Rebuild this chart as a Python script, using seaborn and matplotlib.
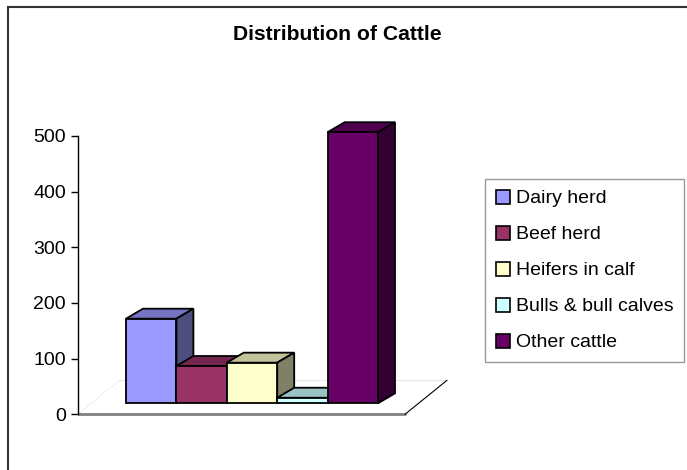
import matplotlib
matplotlib.use("Agg")
from matplotlib import pyplot as plt
from matplotlib.patches import Polygon, Rectangle
from matplotlib.transforms import ScaledTranslation
import matplotlib.colors as mcolors
import seaborn as sns


# Dados do gráfico
categorias = ['Dairy herd', 'Beef herd', 'Heifers in calf', 'Bulls & bull calves', 'Other cattle']
valores = [152, 67, 73, 10, 487]
cores = ['#9999FF', '#993366', '#FFFFCC', '#CCFFFF', '#660066']
yticks = [0, 100, 200, 300, 400, 500]
titulo = 'Distribution of Cattle'


def escurecer(cor, fator):
    r, g, b = mcolors.to_rgb(cor)
    return (r * fator, g * fator, b * fator)


def gerar_grafico():
    sns.set_style('white')
    plt.rcParams['font.family'] = ['Liberation Sans', 'DejaVu Sans']
    plt.rcParams['text.color'] = 'black'
    plt.rcParams['ytick.color'] = 'black'

    W, H = 687, 470
    fig = plt.figure(figsize=(W / 100, H / 100), dpi=100)

    # eixo principal em pixels da referência
    x0, x1, y0, y1 = 77.7, 405, 414.3, 136
    ax = fig.add_axes([x0 / W, 1 - y0 / H, (x1 - x0) / W, (y0 - y1) / H])

    sns.barplot(x=categorias, y=valores, hue=categorias, palette=cores,
                saturation=1, width=1, dodge=False, legend=False,
                edgecolor='black', linewidth=1.3, ax=ax)

    larg_px = 50.4
    xmin = -0.5 - (126 - x0) / larg_px
    xmax = xmin + (x1 - x0) / larg_px
    ax.set_xlim(xmin, xmax)
    ax.set_ylim(0, 500)

    px_x = (x1 - x0) / (xmax - xmin)
    px_y = (y0 - y1) / 500

    # chão em perspectiva
    fdx, fdy = 42 / px_x, 34 / px_y
    ax.plot([xmin, xmax], [0, 0], color='#808080', lw=2, clip_on=False, zorder=1)
    ax.plot([xmax, xmax + fdx], [0, fdy], color='black', lw=0.8, clip_on=False, zorder=1)
    ax.plot([xmin + fdx, xmax + fdx], [fdy, fdy], color='#E6E6E6', lw=0.8, clip_on=False, zorder=0.5)
    ax.plot([xmin, xmin + fdx], [0, fdy], color='#D8D8D8', lw=0.8, ls=':', clip_on=False, zorder=0.5)

    # faces 3D das barras
    desloc = ax.transData + ScaledTranslation(0, 0.11, fig.dpi_scale_trans)
    ddx, ddy = 17 / px_x, 10 / px_y
    for i, (barra, cor) in enumerate(zip(ax.patches, cores)):
        x, w, h = barra.get_x(), barra.get_width(), barra.get_height()
        base = 2 + i
        barra.set_transform(desloc)
        barra.set_zorder(base + 0.5)
        barra.set_clip_on(False)
        topo = Polygon([(x, h), (x + w, h), (x + w + ddx, h + ddy), (x + ddx, h + ddy)],
                       closed=True, facecolor=escurecer(cor, 0.76), edgecolor='black',
                       lw=1.3, transform=desloc, zorder=base + 0.2, clip_on=False)
        lado = Polygon([(x + w, 0), (x + w, h), (x + w + ddx, h + ddy), (x + w + ddx, ddy)],
                       closed=True, facecolor=escurecer(cor, 0.5), edgecolor='black',
                       lw=1.3, transform=desloc, zorder=base + 0.2, clip_on=False)
        ax.add_patch(topo)
        ax.add_patch(lado)

    ax.set_yticks(yticks)
    ax.set_yticklabels([str(v) for v in yticks])
    ax.set_xticks([])
    ax.set_xlabel('')
    ax.tick_params(axis='y', left=True, length=5, width=1, color='black',
                   labelcolor='black', pad=3.5, labelsize=14)
    for lado_ in ['top', 'right', 'bottom']:
        ax.spines[lado_].set_visible(False)
    ax.spines['left'].set_color('black')
    ax.spines['left'].set_linewidth(1)
    ax.patch.set_alpha(0)

    fig.text(337 / W, 1 - 35 / H, titulo, ha='center', va='center',
             fontsize=15.2, fontweight='bold', color='black')

    leg = ax.legend(handles=ax.patches[:5], labels=categorias, loc='upper left',
                    bbox_to_anchor=(485 / W, 1 - 179 / H), bbox_transform=fig.transFigure,
                    borderaxespad=0, fontsize=14, frameon=True, fancybox=False,
                    handlelength=0.72, handleheight=0.72, handletextpad=0.3,
                    labelspacing=0.94, borderpad=0.55)
    leg.get_frame().set_edgecolor('#808080')
    leg.get_frame().set_linewidth(1)
    for hnd in leg.legend_handles:
        hnd.set_linewidth(1.2)
    for t in leg.get_texts():
        t.set_color('black')

    # moldura externa
    fig.patches.append(Rectangle((8 / W, -0.1), 1.2, 1.1 - 7 / H, transform=fig.transFigure,
                                 fill=False, edgecolor='#333333', lw=1.5, zorder=0))

    fig.savefig('out.png', dpi=100)


def main():
    gerar_grafico()


if __name__ == '__main__':
    main()
